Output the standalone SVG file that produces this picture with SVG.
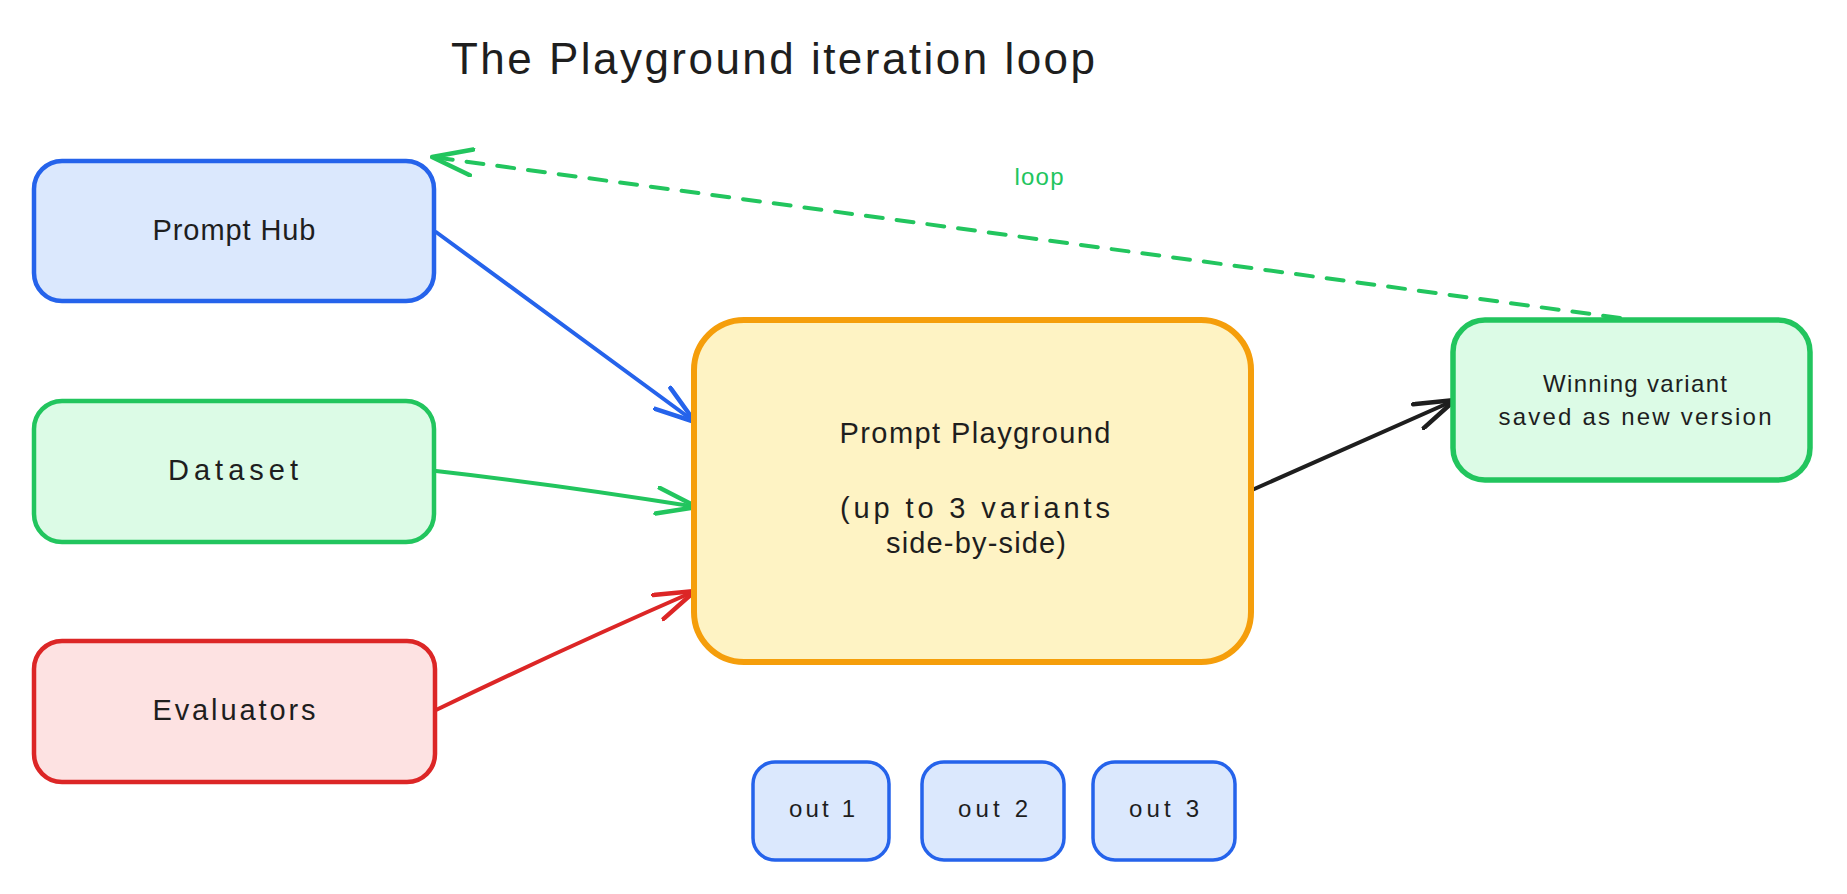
<svg xmlns="http://www.w3.org/2000/svg" width="1847" height="894" viewBox="0 0 1847 894">
  <style>
    text { font-family: "Liberation Sans", "Open Sans", sans-serif; fill: #1e1e1e; text-anchor: middle; }
    .title { font-size: 44px; }
    .lbl { font-size: 29px; }
    .sm { font-size: 24px; }
    .box { stroke-width: 4.5; stroke-linejoin: round; }
    .blue { fill: #dbe8fd; stroke: #2563eb; }
    .green { fill: #dcfbe6; stroke: #22c55e; }
    .red { fill: #fde2e2; stroke: #dc2626; }
    .orange { fill: #fef3c4; stroke: #f59e0b; stroke-width: 6; }
    .conn { fill: none; stroke-width: 4; stroke-linecap: round; }
  </style>
  <defs>
    <marker id="ah-blue" viewBox="0 0 44 30" refX="42" refY="15" markerWidth="44" markerHeight="30" markerUnits="userSpaceOnUse" orient="auto">
      <path d="M2,2 L42,15 L2,28" fill="none" stroke="#2563eb" stroke-width="4.5" stroke-linecap="round" stroke-linejoin="round"/>
    </marker>
    <marker id="ah-green" viewBox="0 0 44 30" refX="42" refY="15" markerWidth="44" markerHeight="30" markerUnits="userSpaceOnUse" orient="auto">
      <path d="M2,2 L42,15 L2,28" fill="none" stroke="#22c55e" stroke-width="4.5" stroke-linecap="round" stroke-linejoin="round"/>
    </marker>
    <marker id="ah-red" viewBox="0 0 44 30" refX="42" refY="15" markerWidth="44" markerHeight="30" markerUnits="userSpaceOnUse" orient="auto">
      <path d="M2,2 L42,15 L2,28" fill="none" stroke="#dc2626" stroke-width="4.5" stroke-linecap="round" stroke-linejoin="round"/>
    </marker>
    <marker id="ah-black" viewBox="0 0 44 30" refX="42" refY="15" markerWidth="44" markerHeight="30" markerUnits="userSpaceOnUse" orient="auto">
      <path d="M2,2 L42,15 L2,28" fill="none" stroke="#1e1e1e" stroke-width="4.5" stroke-linecap="round" stroke-linejoin="round"/>
    </marker>
  </defs>
  <rect width="1847" height="894" fill="#ffffff"/>

  <text id="title" class="title" x="773" y="74" textLength="644">The Playground iteration loop</text>

  <g id="connectors">
    <path class="conn" stroke="#2563eb" d="M436,232 L695,422" marker-end="url(#ah-blue)"/>
    <path class="conn" stroke="#22c55e" d="M436,471 Q560,485 697,507" marker-end="url(#ah-green)"/>
    <path class="conn" stroke="#dc2626" d="M436,710 Q560,650 695,591" marker-end="url(#ah-red)"/>
    <path class="conn" stroke="#1e1e1e" d="M1252,490 L1455,400" marker-end="url(#ah-black)"/>
    <path class="conn" stroke="#22c55e" stroke-width="5" stroke-dasharray="17 14" d="M1620,318 L432,157" marker-end="url(#ah-green)"/>
    <text id="loop-label" class="sm" x="1039" y="185" style="fill:#22c55e" textLength="49">loop</text>
  </g>

  <g id="prompt-hub">
    <rect class="box blue" x="34" y="161" width="400" height="140" rx="28"/>
    <text class="lbl" x="234" y="240" textLength="163">Prompt Hub</text>
  </g>
  <g id="dataset">
    <rect class="box green" x="34" y="401" width="400" height="141" rx="28"/>
    <text class="lbl" x="233" y="480" textLength="130">Dataset</text>
  </g>
  <g id="evaluators">
    <rect class="box red" x="34" y="641" width="401" height="141" rx="28"/>
    <text class="lbl" x="234" y="720" textLength="163">Evaluators</text>
  </g>
  <g id="prompt-playground">
    <rect class="box orange" x="694" y="320" width="557" height="342" rx="50"/>
    <text class="lbl" x="975" y="443" textLength="271">Prompt Playground</text>
    <text class="lbl" x="975" y="518" textLength="270">(up to 3 variants</text>
    <text class="lbl" x="976" y="553" textLength="180">side-by-side)</text>
  </g>
  <g id="winning-variant">
    <rect class="box green" x="1453" y="320" width="357" height="160" rx="32" style="stroke-width:5.5"/>
    <text class="sm" x="1635" y="392" textLength="184">Winning variant</text>
    <text class="sm" x="1635" y="425" textLength="273">saved as new version</text>
  </g>
  <g id="out-1">
    <rect class="box blue" x="753" y="762" width="136" height="98" rx="22" style="stroke-width:3.5"/>
    <text class="sm" x="822" y="817" textLength="66">out 1</text>
  </g>
  <g id="out-2">
    <rect class="box blue" x="922" y="762" width="142" height="98" rx="22" style="stroke-width:3.5"/>
    <text class="sm" x="993" y="817" textLength="70">out 2</text>
  </g>
  <g id="out-3">
    <rect class="box blue" x="1093" y="762" width="142" height="98" rx="22" style="stroke-width:3.5"/>
    <text class="sm" x="1164" y="817" textLength="70">out 3</text>
  </g>
</svg>
